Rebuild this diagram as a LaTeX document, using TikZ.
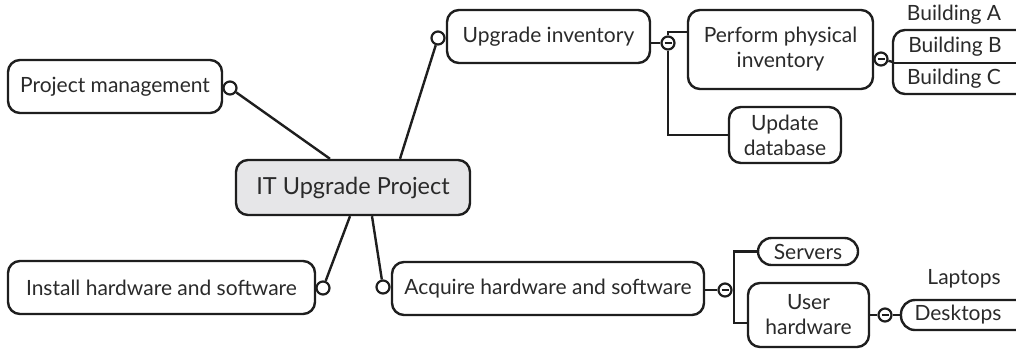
\documentclass[tikz,border=0pt]{standalone}
\usepackage{fontspec}
\setmainfont{Lato}
\usetikzlibrary{positioning}
\definecolor{hubgray}{HTML}{E6E6E8}
\definecolor{ink}{HTML}{1E1E1E}
\definecolor{txt}{HTML}{2A2A2A}
\begin{document}
\begin{tikzpicture}[x=1pt,y=-1pt,
  every node/.style={font=\fontsize{21}{25}\selectfont,text=txt},
  topic/.style={draw=ink,line width=2.4pt,rounded corners=12pt,fill=white,align=center,inner sep=0pt},
  hub/.style={topic,fill=hubgray,font=\fontsize{23.5}{27}\selectfont},
  knob/.style={circle,draw=ink,line width=2.2pt,fill=white,inner sep=0pt,minimum size=13pt},
  fold/.style={knob,path picture={\draw[ink,line width=2.4pt]([xshift=-3.5pt]path picture bounding box.center)--([xshift=3.5pt]path picture bounding box.center);}},
  link/.style={draw=ink,line width=2.4pt}]
\useasboundingbox (0,0) rectangle (1016,349);
\node[hub,minimum width=234pt,minimum height=55pt] (itp) at (353,187.5) {IT Upgrade Project};
\node[topic,minimum width=214pt,minimum height=53pt] (pm) at (115,86.5) {Project management};
\node[topic,minimum width=307pt,minimum height=53pt] (ihs) at (161.5,287.5) {Install hardware and software};
\node[topic,minimum width=203pt,minimum height=53pt] (ui) at (548.5,36.5) {Upgrade inventory};
\node[topic,minimum width=312pt,minimum height=53pt] (ahs) at (548,288.5) {Acquire hardware and software};
\node[topic,minimum width=185pt,minimum height=79pt] (ppi) at (780.5,49.5) {Perform physical\\inventory};
\node[topic,minimum width=112pt,minimum height=56pt] (udb) at (785,135) {Update\\database};
\node[topic,rounded corners=13.5pt,minimum width=100pt,minimum height=27pt] (srv) at (808,251.5) {Servers};
\node[topic,minimum width=121pt,minimum height=64pt] (uhw) at (808.5,315) {User\\hardware};
\node[knob] (pmk) at (230,88) {};
\node[knob] (uik) at (438,38) {};
\node[knob] (ihk) at (323,288) {};
\node[knob] (ahk) at (383,287) {};
\node[fold] (uif) at (668,43) {};
\node[fold] (ppif) at (881,59) {};
\node[fold] (ahf) at (725,290) {};
\node[fold] (uhwf) at (885,315) {};
\draw[link] (pmk)--([xshift=-23pt]itp.north);
\draw[link] (uik)--([xshift=47pt]itp.north);
\draw[link] (ihk)--([xshift=-3pt]itp.south);
\draw[link] (ahk)--([xshift=19pt]itp.south);
\draw[link] (ui.east|-uif)--(uif);
\draw[link] (uif.north)|-([yshift=17.5pt]ppi.west);
\draw[link] (uif.south)|-(udb.west);
\draw[link] (ahs.east|-ahf)--(ahf);
\draw[link] (srv.west)-|([xshift=9pt]ahf.center)|-([yshift=-8pt]uhw.west);
\draw[link] (ppi.east|-ppif)--(ppif);
\draw[link] (uhw.east)--(uhwf);
\coordinate (bldg) at (893,62);
\coordinate (kit) at (901,315);
\draw[link] (ppif)--(bldg);
\draw[link] (uhwf)--(kit);
\draw[link,rounded corners=12pt] (1020,30)--(893,30)--(893,94)--(1020,94);
\draw[link] (893,63)--(1020,63);
\draw[link,rounded corners=14pt] (1020,300)--(901,300)--(901,330)--(1020,330);
\node (ba) at (954,15) {Building A};
\node (bb) at (955,47) {Building B};
\node (bc) at (954,79) {Building C};
\node (lap) at (964,279) {Laptops};
\node (desk) at (958,315) {Desktops};
\end{tikzpicture}
\end{document}
